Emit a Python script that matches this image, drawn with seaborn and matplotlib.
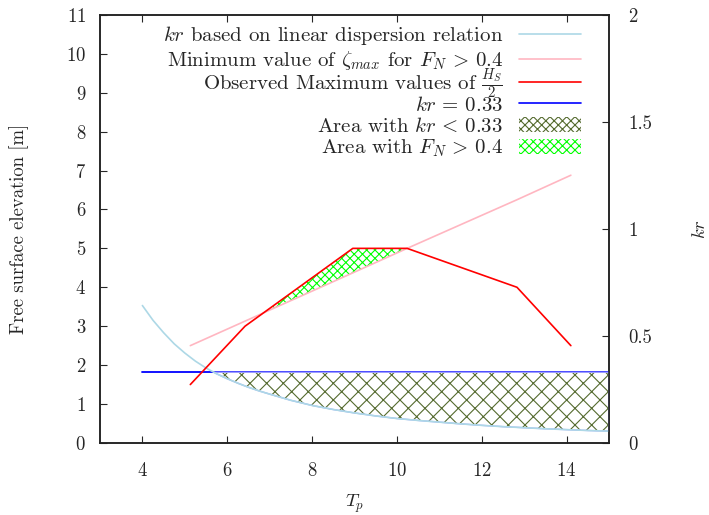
import numpy as np
import matplotlib
matplotlib.use("Agg")
import matplotlib.pyplot as plt
from matplotlib.lines import Line2D
from matplotlib.patches import Patch
from matplotlib.ticker import FuncFormatter
from matplotlib.offsetbox import TextArea
from matplotlib.transforms import Bbox
import seaborn as sns

# Wave period samples and kr from the linear dispersion relation
tp_kr = [4.0, 4.25, 4.5, 4.75, 5.0, 5.25, 5.5, 5.75, 6.0, 6.25, 6.5, 6.75,
         7.0, 7.5, 8.0, 8.5, 9.0, 9.5, 10.0, 10.5, 11.0, 11.5, 12.0, 12.5,
         13.0, 13.5, 14.0, 14.5, 15.0]
kr_values = [0.642, 0.573, 0.515, 0.463, 0.420, 0.382, 0.350, 0.323, 0.300,
             0.279, 0.260, 0.243, 0.228, 0.199, 0.175, 0.156, 0.140, 0.126,
             0.114, 0.105, 0.097, 0.089, 0.082, 0.076, 0.071, 0.066, 0.062,
             0.058, 0.055]

# Observed sea states
tp_obs = [5.13, 6.42, 8.96, 10.24, 12.83, 14.1]
hs_half_obs = [1.5, 3.0, 5.0, 5.0, 4.0, 2.5]
zeta_min = [2.5, 3.13, 4.37, 5.0, 6.25, 6.88]

# kr threshold
tp_ref = [4.0, 15.0]
kr_ref = [0.33, 0.33]

sns.set_style("ticks")
plt.rcParams["font.family"] = ["cmr10", "DejaVu Serif"]
plt.rcParams["mathtext.fontset"] = "cm"
plt.rcParams["axes.formatter.use_mathtext"] = True
plt.rcParams["hatch.linewidth"] = 0.8
FS = 13.5
FS_LEG = 15

fig = plt.figure(figsize=(7.09, 5.15), dpi=100)
ax = fig.add_axes([0.141, 0.140, 0.718, 0.831])
ax2 = ax.twinx()

tk = np.array(tp_kr)
kr = np.array(kr_values)
below = kr <= 0.33

# right axis: kr curve, threshold and the kr < 0.33 region
sns.lineplot(x=tp_ref, y=kr_ref, ax=ax2, color="#0000ff", lw=1.3, legend=False)
ax2.fill_between(tk, kr, 0.33, where=below, interpolate=True,
                 facecolor="none", edgecolor="#556b2f", hatch="xx",
                 linewidth=0, zorder=3)
ax2.fill_between(tk, kr, 0.33, where=below, interpolate=True,
                 facecolor="none", edgecolor="#a0a0ff", linewidth=1.0, zorder=3)
sns.lineplot(x=tp_kr, y=kr_values, ax=ax2, color="#add8e6", lw=1.2,
             legend=False, zorder=4)

# left axis: elevations and the F_N > 0.4 region
obs = np.array(hs_half_obs)
zm = np.array(zeta_min)
ax.fill_between(tp_obs, obs, zm, where=obs >= zm, interpolate=True,
                facecolor="none", edgecolor="#00ff00", hatch="xxxx", linewidth=0)
sns.lineplot(x=tp_obs, y=zeta_min, ax=ax, color="#ffb6c1", lw=1.2, legend=False)
sns.lineplot(x=tp_obs, y=hs_half_obs, ax=ax, color="#ff0000", lw=1.2, legend=False)

ax.set_zorder(ax2.get_zorder() + 1)
ax.patch.set_visible(False)

ax.set_xlim(3, 15)
ax.set_ylim(0, 11)
ax2.set_ylim(0, 2)
ax.set_xticks([4, 6, 8, 10, 12, 14])
ax.set_yticks(range(0, 12))
ax2.set_yticks([0, 0.5, 1, 1.5, 2])
ax2.yaxis.set_major_formatter(FuncFormatter(lambda v, p: f"{v:g}"))

ax.tick_params(axis="x", direction="in", top=True, length=4.8, width=0.8,
               labelsize=FS, pad=14)
ax.tick_params(axis="y", direction="in", right=False, length=4.8, width=0.8,
               labelsize=FS, pad=10)
ax2.tick_params(axis="y", direction="in", length=4.8, width=0.8,
                labelsize=FS, pad=14)
for a in (ax, ax2):
    for s in a.spines.values():
        s.set_linewidth(1.1)
        s.set_color("#222222")

ax.set_xlabel("$T_p$", fontsize=FS, labelpad=9)
ax.set_ylabel("Free surface elevation [m]", fontsize=FS, labelpad=27)
ax2.set_ylabel("$kr$", fontsize=FS, labelpad=28)

handles = [
    Line2D([], [], color="#add8e6", lw=1.2),
    Line2D([], [], color="#ffb6c1", lw=1.2),
    Line2D([], [], color="#ff0000", lw=1.2),
    Line2D([], [], color="#0000ff", lw=1.2),
    Patch(facecolor="none", edgecolor="#556b2f", hatch="xxxx", linewidth=0),
    Patch(facecolor="none", edgecolor="#00ff00", hatch="xxxx", linewidth=0),
]
labels = [
    "$kr$ based on linear dispersion relation",
    r"Minimum value of $\zeta_{max}$ for $F_N\,>\,0.4$",
    r"Observed Maximum values of $\frac{H_S}{2}$",
    r"$kr\,=\,0.33$",
    r"Area with $kr\,<\,0.33$",
    r"Area with $F_N\,>\,0.4$",
]
leg = ax.legend(handles, labels, loc="upper right", bbox_to_anchor=(0.945, 0.978),
                frameon=False, markerfirst=False, fontsize=FS_LEG, handlelength=3.0,
                handletextpad=0.75, labelspacing=0.1, borderaxespad=0, borderpad=0)

# keep the fraction row at the same height as the plain rows
areas = [a for a in leg.findobj(TextArea)]
ref_area = next(a for a in areas if a.get_text().startswith("Area with $kr"))
frac_area = next(a for a in areas if a.get_text().startswith("Observed"))
_orig_bbox = frac_area.get_bbox


def _row_bbox(renderer, _orig=_orig_bbox, _ref=ref_area):
    bb = _orig(renderer)
    rb = _ref.get_bbox(renderer)
    return Bbox.from_bounds(bb.x0, rb.y0, bb.width, rb.height)


frac_area.get_bbox = _row_bbox

fig.savefig("out.png", dpi=100)
